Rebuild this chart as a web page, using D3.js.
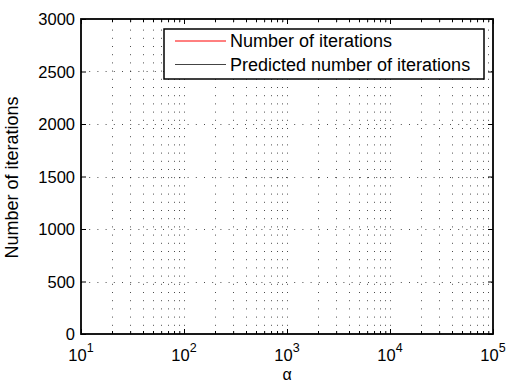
<!DOCTYPE html>
<html>
<head>
<meta charset="utf-8">
<script src="https://cdn.jsdelivr.net/npm/d3@7"></script>
<style>
    body { margin: 0; background: #fff; }
    text { font-family: "Liberation Sans", Arial, Helvetica, sans-serif; fill: #000; }
</style>
</head>
<body>
<svg width="506" height="383"></svg>
<script>
// chart values
const xDomain = [10, 100000];
const yDomain = [0, 3000];
const xMajorTicks = [10, 100, 1000, 10000, 100000];
const xTickExponents = ["1", "2", "3", "4", "5"];
const yTicks = [0, 500, 1000, 1500, 2000, 2500, 3000];
const seriesNames = ["Number of iterations", "Predicted number of iterations"];
const seriesColors = ["#ff0000", "#444444"];
// the series barely show inside the axes: one point each at the left edge
const alphaValues = [10];
const iterations = [0];
const predictedIterations = [790];

let margin = { top: 19, right: 13, bottom: 49, left: 81 };
let svg = d3.select("svg");
let width = +svg.attr("width") - margin.left - margin.right;
let height = +svg.attr("height") - margin.top - margin.bottom;
let g = svg.append("g")
    .attr("transform", "translate(" + margin.left + "," + margin.top + ")");

let x = d3.scaleLog().domain(xDomain).range([0, width]);
let y = d3.scaleLinear().domain(yDomain).range([height, 0]);

// minor ticks 2..9 per decade
let xMinor = [];
for (let k = 1; k < 5; k++) {
    for (let m = 2; m <= 9; m++) xMinor.push(m * Math.pow(10, k));
}

// grid
let grid = g.append("g")
    .attr("stroke", "#000")
    .attr("stroke-width", 1)
    .attr("stroke-dasharray", "1,7.2")
    .attr("stroke-opacity", 0.7);
grid.selectAll(".vgrid")
    .data(xMinor.concat(xMajorTicks.slice(1, -1)))
    .enter().append("line")
    .attr("x1", d => Math.round(x(d)) + 0.5)
    .attr("x2", d => Math.round(x(d)) + 0.5)
    .attr("y1", height)
    .attr("y2", 0);
grid.selectAll(".hgrid")
    .data(yTicks.slice(1, -1))
    .enter().append("line")
    .attr("y1", d => Math.round(y(d)) + 0.5)
    .attr("y2", d => Math.round(y(d)) + 0.5)
    .attr("x1", 0)
    .attr("x2", width);

// data lines
let line = d3.line()
    .x((d, i) => x(alphaValues[i]))
    .y(d => y(d));
[iterations, predictedIterations].forEach(function (s, i) {
    g.append("path")
        .datum(s)
        .attr("fill", "none")
        .attr("stroke", seriesColors[i])
        .attr("stroke-width", 1)
        .attr("d", line);
});

// axes (ticks inside, mirrored)
let xAxisBottom = d3.axisBottom(x).tickValues(xMajorTicks).tickSizeInner(-5).tickSizeOuter(0).tickFormat("");
let xAxisTop = d3.axisTop(x).tickValues(xMajorTicks).tickSizeInner(-5).tickSizeOuter(0).tickFormat("");
let xMinorBottom = d3.axisBottom(x).tickValues(xMinor).tickSizeInner(-3).tickSizeOuter(0).tickFormat("");
let xMinorTop = d3.axisTop(x).tickValues(xMinor).tickSizeInner(-3).tickSizeOuter(0).tickFormat("");
let yAxisLeft = d3.axisLeft(y).tickValues(yTicks).tickSizeInner(-5).tickSizeOuter(0).tickFormat("");
let yAxisRight = d3.axisRight(y).tickValues(yTicks).tickSizeInner(-5).tickSizeOuter(0).tickFormat("");

g.append("g").attr("transform", "translate(0," + height + ")").call(xAxisBottom);
g.append("g").attr("transform", "translate(0," + height + ")").call(xMinorBottom);
g.append("g").call(xAxisTop);
g.append("g").call(xMinorTop);
g.append("g").call(yAxisLeft);
g.append("g").attr("transform", "translate(" + width + ",0)").call(yAxisRight);
g.selectAll(".domain").remove();
g.selectAll(".tick line").attr("stroke", "#000").attr("stroke-width", 1);

// box
g.append("rect")
    .attr("x", 0).attr("y", 0)
    .attr("width", width).attr("height", height)
    .attr("fill", "none")
    .attr("stroke", "#000")
    .attr("stroke-width", 1.8);

// y tick labels
g.selectAll(".ylabel")
    .data(yTicks)
    .enter().append("text")
    .attr("x", -6)
    .attr("y", d => y(d) + 6)
    .attr("text-anchor", "end")
    .style("font-size", "16.5px")
    .text(d => d);

// x tick labels with superscript exponents
let xl = g.selectAll(".xlabel")
    .data(xMajorTicks)
    .enter().append("text")
    .attr("x", d => x(d))
    .attr("y", height + 27)
    .attr("text-anchor", "middle")
    .style("font-size", "16.5px");
xl.append("tspan").text("10");
xl.append("tspan")
    .attr("dy", -9)
    .style("font-size", "12.5px")
    .text((d, i) => xTickExponents[i]);

// axis titles
g.append("text")
    .attr("x", width / 2)
    .attr("y", height + 46)
    .attr("text-anchor", "middle")
    .style("font-size", "16px")
    .text("α");
g.append("text")
    .attr("transform", "translate(-63," + (height / 2 + 1) + ") rotate(-90)")
    .attr("text-anchor", "middle")
    .style("font-size", "18px")
    .text("Number of iterations");

// legend
let legend = g.append("g").attr("transform", "translate(83,10)");
legend.append("rect")
    .attr("x", 0).attr("y", 0)
    .attr("width", 320).attr("height", 50)
    .attr("fill", "#fff")
    .attr("stroke", "#000")
    .attr("stroke-width", 1.5);
seriesNames.forEach(function (name, i) {
    let ly = 12 + i * 23.5;
    legend.append("line")
        .attr("x1", 11).attr("x2", 62)
        .attr("y1", ly).attr("y2", ly)
        .attr("stroke", seriesColors[i])
        .attr("stroke-width", 1);
    legend.append("text")
        .attr("x", 66)
        .attr("y", ly + 6)
        .style("font-size", "18px")
        .text(name);
});
</script>
</body>
</html>
